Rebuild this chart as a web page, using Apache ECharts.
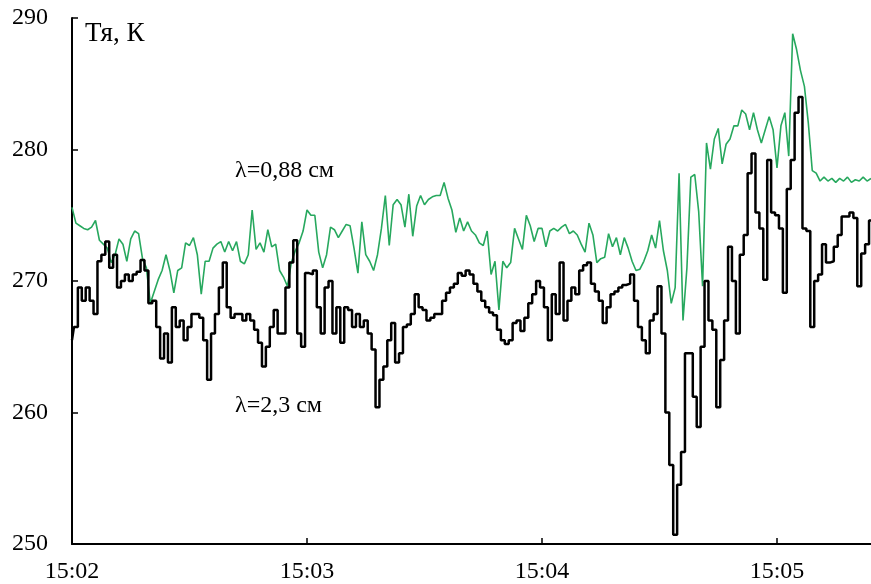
<!DOCTYPE html>
<html>
<head>
<meta charset="utf-8">
<script src="https://cdn.jsdelivr.net/npm/echarts@6/dist/echarts.min.js"></script>
<style>
  html, body { margin: 0; padding: 0; background: #fff; }
  #chart { width: 871px; height: 584px; }
</style>
</head>
<body>
<div id="chart"></div>
<script>
// секунды от 15:02:00, шаг 1 с
const tickLabels = ['15:02', '15:03', '15:04', '15:05']

// λ=2,3 см (чёрная)
const t23 = [
  265.5, 266.5, 269.5, 268.5, 269.5, 268.5, 267.5, 271.5, 272, 273,
  271, 272, 269.5, 270, 270.5, 270, 270.5, 270.7, 271.6, 270.8,
  268.3, 268.5, 266.5, 264.1, 266, 263.8, 268, 266.5, 267, 265.5,
  266.5, 267.5, 267.5, 267.2, 265.5, 262.5, 266, 267.5, 269.5, 271.4,
  268, 267.2, 267.5, 267.5, 267, 267.5, 267, 266.3, 265.3, 263.5,
  265, 266.5, 267.8, 266, 266, 269.5, 271.4, 273.1, 266, 265,
  270.6, 270.5, 270.8, 268, 266, 269.5, 270, 266, 268, 265.3,
  268, 267.8, 266.5, 267.5, 266.5, 267, 266, 264.8, 260.4, 262.5,
  263.5, 265.5, 266.8, 263.8, 264.5, 266.5, 266.7, 267.5, 269, 268,
  267.8, 267, 267.2, 267.5, 267.5, 268.5, 269.1, 269.5, 269.8, 270.6,
  270.4, 270.8, 270.5, 269.8, 269.2, 268.5, 268, 267.6, 267.4, 266.3,
  265.5, 265.2, 265.5, 266.8, 267, 266.2, 267.2, 268.3, 269, 270,
  269.5, 268, 265.5, 269, 267.5, 271.4, 267, 268.5, 269.5, 269,
  270.8, 271.2, 271.4, 269.8, 269.2, 268.5, 266.8, 268, 269, 269.2,
  269.5, 269.7, 269.8, 270.5, 268.5, 266.5, 265.5, 264.5, 267, 267.5,
  269.6, 266, 260, 256, 250.7, 254.5, 257, 264.5, 264.5, 261.2,
  258.9, 265, 270, 267, 266.3, 260.4, 264, 267, 272.6, 270,
  266, 272, 273.5, 278.2, 279.7, 275.2, 274, 270.1, 279.2, 275.2,
  275, 274, 269.1, 277, 279.2, 282.8, 284, 274, 273.8, 266.5,
  270, 270.5, 272.8, 271.4, 271.5, 272.6, 273.5, 274.9, 274.9, 275.2,
  274.8, 269.6, 272.1, 272.8, 274.6
]

// λ=0,88 см (зелёная)
const t088 = [
  275.6, 274.4, 274.2, 274, 273.9, 274.1, 274.6, 273.1, 272.8, 272.5,
  271.4, 272, 273.2, 272.8, 271.5, 273.2, 273.8, 273.6, 271.7, 271,
  268.3, 269.2, 270.1, 270.8, 272, 270.8, 269.1, 270.8, 271, 272.9,
  272.7, 273.3, 272, 269, 271.5, 271.5, 272.5, 272.8, 273, 272.2,
  273, 272.3, 273, 271.5, 271.3, 272, 275.4, 272.4, 272.9, 272.2,
  273.9, 272.6, 272.8, 270.8, 270.3, 269.6, 271.4, 272.3, 272.9, 273.8,
  275.4, 275, 275, 272.2, 271, 272, 274.1, 273.9, 273.3, 273.8,
  274.3, 274.2, 272.5, 270.6, 274.5, 272, 271.5, 270.8, 272, 274,
  276.5, 272.7, 275.8, 276.2, 275.8, 274.1, 276.6, 273.4, 275.7, 276.5,
  275.8, 276.2, 276.4, 276.5, 276.5, 277.5, 276.3, 275.4, 273.7, 274.8,
  273.8, 274.5, 273.8, 273.5, 272.9, 272.7, 273.8, 270.5, 271.5, 267.8,
  271.5, 271, 271.4, 274, 273.2, 272.4, 275, 274.2, 273, 274,
  274, 272.6, 273.8, 274, 273.8, 274.1, 274.3, 273.6, 273.8, 273.5,
  272.8, 272.2, 274.4, 273.5, 271.4, 271.7, 271.8, 273.6, 272.6, 273.3,
  272, 273.3, 272.5, 271.5, 270.8, 270.9, 271.5, 272.3, 273.5, 272.5,
  274.6, 272.3, 270.8, 268.3, 269.5, 278.2, 267, 271, 277.9, 278.1,
  275.3, 269.6, 280.5, 278.5, 280.8, 281.6, 278.9, 280.4, 280.8, 281.8,
  281.8, 283, 282.7, 281.5, 282.8, 281.5, 280.5, 281.5, 282.5, 281.5,
  278.6, 281.8, 282.8, 279.5, 288.8, 287.6, 286, 284.8, 282, 278.4,
  278.2, 277.6, 277.9, 277.6, 277.8, 277.5, 277.8, 277.6, 277.9, 277.5,
  277.7, 277.6, 277.9, 277.6, 277.8
]

const toPairs = arr => arr.map((v, i) => [i, v])

const font = '"Liberation Serif", "Times New Roman", serif'

const chart = echarts.init(document.getElementById('chart'))
chart.setOption({
  animation: false,
  backgroundColor: '#fff',
  grid: { left: 72, right: 0, top: 18, bottom: 40, outerBoundsMode: 'none', containLabel: false },
  xAxis: {
    type: 'value',
    min: 0,
    max: 204,
    interval: 60,
    axisLine: { onZero: false, lineStyle: { color: '#000', width: 2 } },
    axisTick: { inside: true, length: 6, lineStyle: { color: '#000', width: 1.5 } },
    splitLine: { show: false },
    axisLabel: {
      color: '#000', fontFamily: font, fontSize: 24, margin: 16,
      showMaxLabel: false,
      formatter: v => (v % 60 === 0 ? tickLabels[v / 60] : '')
    }
  },
  yAxis: {
    type: 'value',
    min: 250,
    max: 290,
    interval: 10,
    axisLine: { show: true, lineStyle: { color: '#000', width: 2 } },
    axisTick: { show: true, inside: true, length: 6, lineStyle: { color: '#000', width: 1.5 } },
    splitLine: { show: false },
    axisLabel: { color: '#000', fontFamily: font, fontSize: 24, margin: 24 }
  },
  graphic: [
    { type: 'text', left: 85, top: 20, style: { text: 'Тя, К', font: '27px ' + font, fill: '#000' } },
    { type: 'text', left: 235, top: 159, style: { text: 'λ=0,88 см', font: '24px ' + font, fill: '#000' } },
    { type: 'text', left: 235, top: 394, style: { text: 'λ=2,3 см', font: '24px ' + font, fill: '#000' } }
  ],
  series: [
    {
      name: 'λ=0,88 см',
      type: 'line',
      data: toPairs(t088),
      showSymbol: false,
      lineStyle: { color: '#27a85e', width: 1.6 },
      z: 2
    },
    {
      name: 'λ=2,3 см',
      type: 'line',
      data: toPairs(t23),
      step: 'middle',
      showSymbol: false,
      lineStyle: { color: '#000', width: 2.5 },
      z: 3
    }
  ]
})
</script>
</body>
</html>
